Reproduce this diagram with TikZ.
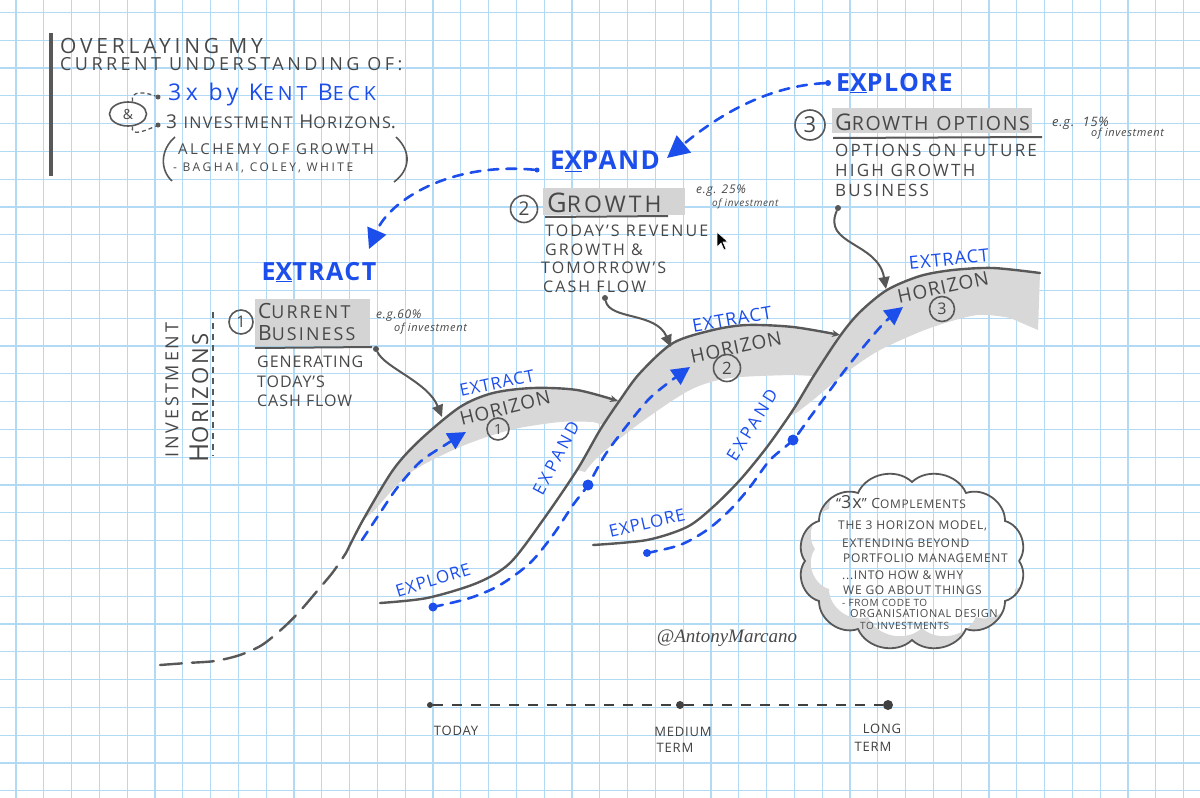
\documentclass[tikz,border=0pt]{standalone}
\usepackage{fontspec}
\setmainfont[LetterSpace=6]{Open Sans}
\newfontfamily\sigfont{Liberation Serif}
\usetikzlibrary{arrows.meta,shapes.geometric}
\definecolor{gridc}{RGB}{178,218,245}
\definecolor{ink}{RGB}{88,88,88}
\definecolor{txt}{RGB}{72,72,72}
\definecolor{inkblue}{RGB}{28,78,236}
\definecolor{band}{RGB}{216,216,216}
\definecolor{hl}{RGB}{212,212,212}
\makeatletter
\newcommand\hs[1]{\fontsize{#1}{\fpeval{1.2*#1}}\selectfont}
\newcommand\sm[1]{{\fontsize{\fpeval{0.85*\f@size}}{\f@baselineskip}\selectfont #1}}
\makeatother
\newcommand\ls[1]{\addfontfeatures{LetterSpace=#1}}
\newcommand\cloudp[2]{(1019+#1,561+#2) to[bend left=55] (1005+#1,601+#2) to[bend left=55] (966+#1,629+#2) to[bend left=55] (912+#1,640+#2) to[bend left=55] (858+#1,629+#2) to[bend left=55] (819+#1,601+#2) to[bend left=55] (805+#1,561+#2) to[bend left=55] (819+#1,521+#2) to[bend left=55] (858+#1,493+#2) to[bend left=55] (912+#1,482+#2) to[bend left=55] (966+#1,493+#2) to[bend left=55] (1005+#1,521+#2) to[bend left=55] (1019+#1,561+#2)}
\begin{document}
\begin{tikzpicture}[x=1pt,y=-1pt,
  lbl/.style={inner sep=0pt, text=txt},
  blab/.style={inner sep=0pt, text=inkblue},
  inkln/.style={draw=ink, line width=2.4pt, line cap=round, line join=round},
  bdash/.style={draw=inkblue, line width=2.6pt, dash pattern=on 10pt off 8pt, line cap=round},
  bdot/.style={circle, fill=inkblue, inner sep=0pt, minimum size=#1},
  gdot/.style={circle, fill=ink, inner sep=0pt, minimum size=#1},
  numc/.style={circle, draw=ink, line width=1.6pt, inner sep=0pt, minimum size=#1, text=txt},
  btip/.style={-{Triangle[length=#1,width=#1]}},
  gtip/.style={-{Triangle[length=12pt,width=11pt]}}
]
\useasboundingbox (0,0) rectangle (1200,798);
\fill[white] (0,0) rectangle (1200,798);
% grid
\foreach \i in {0,...,42} \draw[gridc, line width=1.3pt] ({16+27.8*\i},0) -- ({16+27.8*\i},798);
\foreach \j in {0,...,28} \draw[gridc, line width=1.3pt] (0,{12.4+27.8*\j}) -- (1200,{12.4+27.8*\j});

% ---------- header ----------
\fill[ink] (49,33) rectangle (53,176);
\node[lbl, anchor=west] (h1) at (60,46) {\hs{21}\ls{18}OVERLAYING MY};
\node[lbl, anchor=west] (h2) at (60,64) {\hs{18}\ls{19}CURRENT UNDERSTANDING OF:};
\node[ellipse, draw=ink, line width=1.6pt, minimum width=37pt, minimum height=24pt, inner sep=0pt, text=txt] (amp) at (128,114) {\hs{14}\&};
\node[gdot=5pt] (b1) at (158,97) {};
\node[gdot=5pt] (b2) at (158,125) {};
\draw[ink, line width=1.3pt, dash pattern=on 4pt off 3pt] (amp.70) .. controls (130,90) and (145,92) .. (b1);
\draw[ink, line width=1.3pt, dash pattern=on 4pt off 3pt] (amp.-70) .. controls (130,137) and (145,131) .. (b2);
\node[blab, anchor=west] (kb) at (168,95) {\hs{23}\ls{20}3x by K\sm{ENT} B\sm{ECK}};
\node[lbl, anchor=west] (ih) at (166,122) {\hs{19}\ls{8}3 \sm{INVESTMENT} H\sm{ORIZONS}.};
\node[lbl, anchor=west] (al) at (178,149) {\hs{15}\ls{17}ALCHEMY OF GROWTH};
\node[lbl, anchor=west] (bc) at (173,168) {\hs{12}\ls{21}- BAGHAI, COLEY, WHITE};
\draw[ink, line width=1.6pt] (175,137) .. controls (160,150) and (160,170) .. (172,181);
\draw[ink, line width=1.6pt] (396,137) .. controls (412,152) and (410,170) .. (394,182);

% ---------- blue top flow ----------
\node[bdot=6pt] (xd) at (828,83) {};
\node[blab, anchor=west] (xp) at (836,83) {\hs{25}\bfseries E\underline{X}PLORE};
\node[blab] (xe) at (605,161) {\hs{26}\bfseries E\underline{X}PAND};
\node[bdot=5pt] (ed) at (537,170) {};
\node[blab] (xt) at (319,272) {\hs{25}\bfseries E\underline{X}TRACT};
\coordinate (xpend) at (667,158);
\coordinate (edend) at (369,249);
\draw[bdash, btip=22pt] (xd) .. controls (765,86) and (715,118) .. (xpend);
\draw[bdash, btip=20pt] (ed) .. controls (450,162) and (390,200) .. (edend);

% ---------- investment horizons ----------
\node[lbl, rotate=90] (inv) at (172,390) {\hs{18}\ls{16}INVESTMENT};
\node[lbl, rotate=90] (hor) at (199,398) {\hs{26}\ls{11}H\sm{ORIZONS}};
\draw[ink, line width=2pt, dash pattern=on 6pt off 5pt] (213,312) -- (213,456);

% ---------- bands ----------
\fill[band] plot[smooth] coordinates {(363,520) (393,470) (420,440) (460,407) (493,393) (533,388) (577,390) (619,400)} -- (604,425) -- plot[smooth] coordinates {(593,422) (560,422) (510,430) (460,447) (410,473) (375,510)} -- cycle;
\fill[band] plot[smooth] coordinates {(577,470) (600,430) (620,400) (640,373) (673,343) (713,330) (747,325) (793,327) (838,335)} -- (815,376) -- plot[smooth] coordinates {(793,375) (730,378) (690,390) (640,423) (600,455) (585,472)} -- cycle;
\fill[band] plot[smooth] coordinates {(790,415) (813,377) (840,336) (860,312) (887,290) (920,276) (953,270) (993,268) (1040,273)} -- (1038,330) -- plot[smooth] coordinates {(1010,318) (977,315) (930,328) (880,350) (847,372) (813,400) (795,414)} -- cycle;

% ---------- curves ----------
\draw[inkln, dash pattern=on 22pt off 10pt] plot[smooth] coordinates {(160,665) (187,663) (215,661) (240,655) (262,645) (283,628) (300,611) (318,590) (333,572) (346,553)};
\draw[inkln, -{Stealth[length=8pt,width=7pt]}] plot[smooth] coordinates {(346,553) (363,520) (393,470) (420,440) (460,407) (493,393) (533,388) (577,390) (618,401)};
\draw[inkln, -{Stealth[length=8pt,width=7pt]}] plot[smooth] coordinates {(380,603) (427,598) (477,583) (510,563) (543,520) (577,470) (600,430) (620,400) (640,373) (673,343) (713,330) (747,325) (793,327) (840,335)};
\draw[inkln] plot[smooth] coordinates {(593,545) (647,540) (687,527) (713,507) (740,480) (767,447) (793,410) (813,377) (840,336) (860,312) (887,290) (920,276) (953,270) (993,268) (1040,273)};

% ---------- blue dashed paths in horizons ----------
\draw[bdash, btip=18pt] plot[smooth] coordinates {(362,540) (380,513) (397,488) (420,462) (445,445) (466,432)};
\node[bdot=9pt] (e2s) at (433,607) {};
\node[bdot=11pt] (e2m) at (588,485) {};
\draw[bdash, btip=18pt] plot[smooth] coordinates {(e2s) (470,598) (500,585) (530,563) (553,535) (573,505) (e2m) (605,455) (625,428) (648,400) (668,383) (690,367)};
\node[bdot=8pt] (e3s) at (647,553) {};
\node[bdot=11pt] (e3m) at (793,440) {};
\draw[bdash, btip=18pt] plot[smooth] coordinates {(e3s) (680,545) (707,530) (730,510) (750,487) (770,460) (e3m) (808,420) (825,397) (845,370) (865,345) (885,322) (903,307)};

% ---------- curve labels ----------
\node[blab, rotate=12] (x1) at (497,383) {\hs{17}EXTRACT};
\node[blab, rotate=17] (p2) at (433,580) {\hs{17}EXPLORE};
\node[blab, rotate=62] (d2) at (556,458) {\hs{17}\ls{18}EXPAND};
\node[blab, rotate=10] (x2) at (732,319) {\hs{18}EXTRACT};
\node[blab, rotate=13] (p3) at (647,523) {\hs{17}EXPLORE};
\node[blab, rotate=58] (d3) at (752,425) {\hs{17}\ls{18}EXPAND};
\node[blab, rotate=6] (x3) at (949,259) {\hs{18}EXTRACT};
\node[lbl, rotate=14] (hz1) at (505,408) {\hs{19}HORIZON};
\node[numc=22pt] (n1) at (498,429) {\hs{14}1};
\node[lbl, rotate=12] (hz2) at (736,347) {\hs{19}HORIZON};
\node[numc=27pt] (n2) at (727,368) {\hs{17}2};
\node[lbl, rotate=12] (hz3) at (943,287) {\hs{19}HORIZON};
\node[numc=25pt] (n3) at (942,309) {\hs{16}3};

% ---------- 1 current business ----------
\node[numc=24pt] (c1) at (241,322) {\hs{16}1};
\fill[hl] (255,299) rectangle (370,346);
\node[lbl, anchor=west] (cb1) at (258,311) {\hs{21}\ls{12}C\sm{URRENT}};
\node[lbl, anchor=west] (cb2) at (258,333) {\hs{21}\ls{12}B\sm{USINESS}};
\draw[ink, line width=2pt] (255,348) -- (372,347);
\node[lbl, anchor=west] (e1a) at (376,316) {\hs{12}\itshape e.g.60\%};
\node[lbl, anchor=west] (e1b) at (394,329) {\hs{11}\itshape of investment};
\node[lbl, anchor=west] (g1) at (257,362) {\hs{16}GENERATING};
\node[lbl, anchor=west] (g2) at (257,382) {\hs{16}TODAY'S};
\node[lbl, anchor=west] (g3) at (257,401) {\hs{16}CASH FLOW};
\node[gdot=6pt] (a1) at (376,349) {};
\coordinate (a1e) at (442,417);
\draw[inkln, line width=2pt, gtip] (a1) .. controls (385,368) and (428,382) .. (a1e);

% ---------- 2 growth ----------
\node[numc=27pt] (c2) at (524,209) {\hs{19}2};
\fill[hl] (543,188) rectangle (685,215);
\node[lbl, anchor=west] (gr) at (547,203) {\hs{27}\ls{13}G\sm{ROWTH}};
\draw[ink, line width=2pt] (545,217) -- (668,216);
\node[lbl, anchor=west] (e2a) at (696,191) {\hs{12}\itshape e.g. 25\%};
\node[lbl, anchor=west] (e2b) at (712,204) {\hs{10}\itshape of investment};
\node[lbl, anchor=west] (r1) at (545,231) {\hs{16}\ls{13}TODAY'S REVENUE};
\node[lbl, anchor=west] (r2) at (545,250) {\hs{16}\ls{13}GROWTH \&};
\node[lbl, anchor=west] (r3) at (541,268) {\hs{16}\ls{13}TOMORROW'S};
\node[lbl, anchor=west] (r4) at (543,287) {\hs{16}\ls{13}CASH FLOW};
\node[gdot=6pt] (a2) at (605,298) {};
\coordinate (a2e) at (671,347);
\draw[inkln, line width=2pt, gtip] (a2) .. controls (610,320) and (656,312) .. (a2e);

% ---------- 3 growth options ----------
\node[numc=30pt] (c3) at (810,125) {\hs{22}3};
\fill[hl] (832,108) rectangle (1032,133);
\node[lbl, anchor=west] (go) at (835,122) {\hs{23}\ls{8}G\sm{ROWTH} \sm{OPTIONS}};
\draw[ink, line width=2pt] (833,138) -- (1042,137);
\node[lbl, anchor=west] (e3a) at (1052,123) {\hs{13}\itshape e.g.\ \ 15\%};
\node[lbl, anchor=west] (e3b) at (1091,134) {\hs{11}\itshape of investment};
\node[lbl, anchor=west] (o1) at (835,150) {\hs{17}\ls{13}OPTIONS ON FUTURE};
\node[lbl, anchor=west] (o2) at (835,170) {\hs{17}\ls{13}HIGH GROWTH};
\node[lbl, anchor=west] (o3) at (835,190) {\hs{17}\ls{13}BUSINESS};
\node[gdot=6pt] (a3) at (838,208) {};
\coordinate (a3e) at (886,289);
\draw[inkln, line width=2pt, gtip] (a3) .. controls (822,245) and (878,242) .. (a3e);

% ---------- cloud ----------
\begin{scope}
  \clip \cloudp{0}{0};
  \fill[band, even odd rule] (700,400) rectangle (1100,700) \cloudp{10}{-12};
\end{scope}
\draw[ink, line width=1.8pt] \cloudp{0}{0};
\node[lbl, anchor=west] (k1) at (836,502) {\hs{14}``\hs{18}3x\hs{14}'' C\sm{OMPLEMENTS}};
\node[lbl, anchor=west] (k2) at (838,526) {\hs{12}THE 3 HORIZON MODEL,};
\node[lbl, anchor=west] (k3) at (842,543) {\hs{12}EXTENDING BEYOND};
\node[lbl, anchor=west] (k4) at (843,558) {\hs{12}PORTFOLIO MANAGEMENT};
\node[lbl, anchor=west] (k5) at (842,575) {\hs{12}...INTO HOW \& WHY};
\node[lbl, anchor=west] (k6) at (843,590) {\hs{12}WE GO ABOUT THINGS};
\node[lbl, anchor=west] (k7) at (842,603) {\hs{10}- FROM CODE TO};
\node[lbl, anchor=west] (k8) at (850,614) {\hs{11}ORGANISATIONAL DESIGN};
\node[lbl, anchor=west] (k9) at (860,626) {\hs{10}TO INVESTMENTS};

% ---------- signature ----------
\node[lbl] (sig) at (727,638) {\sigfont\itshape\hs{19}@AntonyMarcano};

% ---------- timeline ----------
\node[gdot=6pt, fill=black!75] (t1) at (430,705) {};
\node[gdot=8pt, fill=black!75] (t2) at (680,705) {};
\node[gdot=10pt, fill=black!75] (t3) at (888,705) {};
\draw[black!75, line width=1.8pt, dash pattern=on 10pt off 9pt] (t1) -- (t2) -- (t3);
\node[lbl, text=black!75] (l1) at (456,731) {\hs{13}TODAY};
\node[lbl, text=black!75] (l2) at (683,732) {\hs{13}MEDIUM};
\node[lbl, text=black!75] (l3) at (675,748) {\hs{13}TERM};
\node[lbl, text=black!75] (l4) at (882,729) {\hs{13}LONG};
\node[lbl, text=black!75] (l5) at (873,747) {\hs{13}TERM};

% ---------- mouse pointer ----------
\filldraw[fill=black, draw=white, line width=0.6pt] (717,232) -- (717,247) -- (721,243) -- (724,250) -- (726,249) -- (723,242) -- (728,242) -- cycle;
\end{tikzpicture}
\end{document}
